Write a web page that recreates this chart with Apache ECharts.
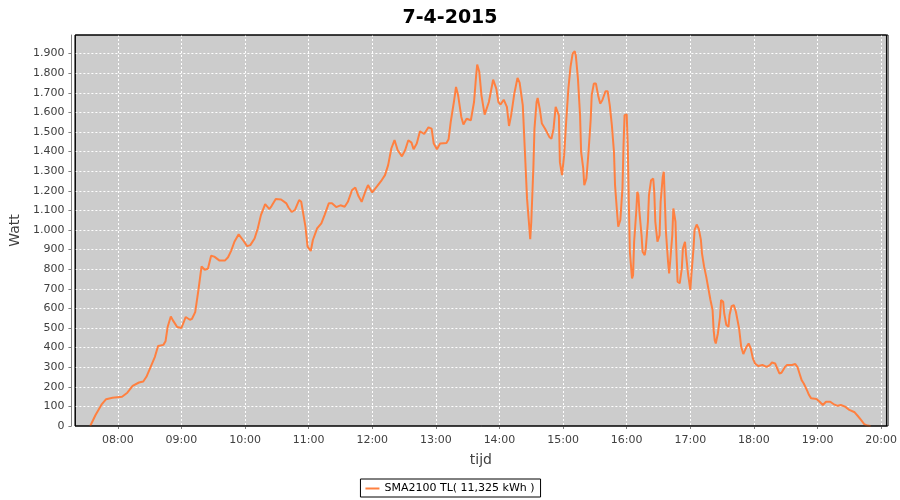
<!DOCTYPE html>
<html><head><meta charset="utf-8">
<script src="https://cdn.jsdelivr.net/npm/echarts@6/dist/echarts.min.js"></script>
<style>html,body{margin:0;padding:0;background:#fff}#c{width:900px;height:500px}</style>
</head><body><div id="c"></div>
<script>
const chartTitle = '7-4-2015';
const seriesName = 'SMA2100 TL( 11,325 kWh )';
const xAxisName = 'tijd';
const yAxisName = 'Watt';
const axisStart = '07:20';
const axisEnd = '20:05';
const hourTicks = ['08:00','09:00','10:00','11:00','12:00','13:00','14:00','15:00','16:00','17:00','18:00','19:00','20:00'];

const times = [
'07:34','07:39','07:45','07:49','07:55','08:04','08:09','08:14','08:20','08:24',
'08:27','08:31','08:35','08:38','08:43','08:45','08:47','08:50','08:52','08:56',
'09:00','09:04','09:08','09:10','09:13','09:16','09:19','09:22','09:25','09:28',
'09:31','09:36','09:41','09:44','09:47','09:50','09:54','09:58','10:02','10:05',
'10:09','10:12','10:15','10:19','10:23','10:25','10:29','10:34','10:39','10:41',
'10:44','10:47','10:51','10:53','10:57','10:59','11:02','11:04','11:08','11:12',
'11:15','11:19','11:22','11:26','11:30','11:34','11:37','11:41','11:44','11:47',
'11:50','11:54','11:56','12:00','12:05','12:09','12:12','12:15','12:18','12:21',
'12:24','12:28','12:31','12:34','12:37','12:39','12:42','12:45','12:49','12:53',
'12:56','12:58','13:01','13:04','13:10','13:12','13:14','13:17','13:19','13:21',
'13:24','13:26','13:29','13:33','13:36','13:38','13:39','13:41','13:43','13:46',
'13:47','13:50','13:53','13:54','13:57','13:59','14:01','14:04','14:07','14:09',
'14:11','14:14','14:17','14:19','14:22','14:24','14:26','14:28','14:29','14:30',
'14:32','14:33','14:35','14:36','14:38','14:40','14:43','14:47','14:49','14:51',
'14:53','14:54','14:56','14:57','14:59','15:01','15:03','15:05','15:07','15:09',
'15:11','15:12','15:14','15:16','15:17','15:19','15:20','15:22','15:24','15:26',
'15:27','15:29','15:31','15:33','15:35','15:37','15:40','15:42','15:44','15:46',
'15:48','15:49','15:51','15:52','15:54','15:56','15:57','15:58','16:00','16:01',
'16:02','16:03','16:05','16:06','16:07','16:09','16:10','16:11','16:12','16:14',
'16:15','16:17','16:18','16:20','16:21','16:23','16:25','16:26','16:27','16:29',
'16:31','16:32','16:34','16:35','16:36','16:37','16:39','16:40','16:41','16:43',
'16:44','16:46','16:47','16:48','16:50','16:52','16:53','16:55','16:56','16:58',
'17:00','17:01','17:03','17:04','17:06','17:08','17:10','17:11','17:13','17:15',
'17:17','17:19','17:21','17:22','17:23','17:24','17:26','17:28','17:29','17:31',
'17:32','17:34','17:36','17:37','17:39','17:41','17:43','17:46','17:48','17:50',
'17:51','17:53','17:55','17:57','17:59','18:01','18:04','18:08','18:12','18:15',
'18:17','18:20','18:22','18:24','18:26','18:29','18:31','18:36','18:39','18:41',
'18:43','18:45','18:47','18:50','18:52','18:54','18:59','19:02','19:05','19:08',
'19:12','19:15','19:19','19:22','19:26','19:30','19:35','19:38','19:41','19:44',
'19:47','19:50'
];
const watts = [
0,56,112,137,144,149,170,205,222,227,
251,302,353,408,414,432,505,559,539,505,
500,556,542,547,581,692,814,797,802,869,
864,844,844,861,895,940,978,949,918,923,
957,1008,1076,1132,1107,1122,1158,1156,1136,1115,
1092,1102,1153,1144,1017,915,893,949,1008,1034,
1076,1136,1136,1117,1126,1119,1144,1204,1217,1173,
1144,1204,1229,1192,1226,1255,1280,1331,1416,1459,
1407,1376,1407,1458,1446,1412,1441,1504,1490,1524,
1517,1441,1412,1441,1444,1463,1551,1653,1730,1687,
1577,1538,1568,1560,1653,1789,1844,1806,1687,1589,
1582,1653,1738,1767,1721,1653,1640,1665,1628,1531,
1585,1696,1776,1752,1636,1398,1160,1024,953,1041,
1322,1517,1653,1674,1619,1543,1517,1475,1466,1517,
1628,1636,1585,1345,1280,1382,1560,1722,1832,1900,
1912,1891,1773,1586,1399,1314,1229,1263,1399,1560,
1688,1747,1747,1688,1645,1662,1708,1708,1637,1535,
1399,1229,1084,1017,1051,1212,1433,1586,1590,1433,
1144,889,753,770,940,1093,1195,1178,1093,974,
889,872,906,1042,1178,1254,1263,1195,1042,940,
974,1144,1271,1297,1144,991,838,779,838,974,
1110,1042,872,736,728,804,906,940,872,770,
694,770,906,1000,1028,1005,949,881,813,762,
702,643,592,489,438,421,472,557,643,634,
574,515,506,566,612,617,583,498,404,367,
370,404,421,396,345,319,306,311,302,311,
324,319,294,268,272,299,311,311,316,302,
268,234,217,183,158,141,138,124,107,124,
124,112,103,107,99,82,70,51,31,10,
2,0
];

function ts(s){ const p = s.split(':'); return new Date(2015, 3, 7, +p[0], +p[1]).getTime(); }
const data = times.map((t, i) => [ts(t), watts[i]]);

function nl(v){
  if (v >= 1000) return Math.floor(v/1000) + '.' + String(v % 1000).padStart(3, '0');
  return String(v);
}

const font = 'DejaVu Sans';
const G = {left: 75, right: 12, top: 35, bottom: 74};
const chart = echarts.init(document.getElementById('c'), null, {renderer: 'canvas'});
chart.setOption({
  animation: false,
  backgroundColor: '#ffffff',
  title: {
    text: chartTitle, left: 'center', top: 4,
    textStyle: {fontFamily: font, fontSize: 19, fontWeight: 'bold', color: '#000'}
  },
  legend: {
    bottom: 3, left: 'center',
    data: [seriesName],
    icon: 'rect', itemWidth: 14, itemHeight: 2, itemGap: 4,
    borderColor: '#000', borderWidth: 1, padding: [4, 6, 3, 5],
    textStyle: {fontFamily: font, fontSize: 11, color: '#000'}
  },
  grid: {
    left: G.left, right: G.right, top: G.top, bottom: G.bottom,
    show: true, backgroundColor: '#cccccc', borderColor: '#000', borderWidth: 1
  },
  graphic: [{
    type: 'rect', z: 100, silent: true,
    shape: {x: G.left, y: G.top, width: 900 - G.left - G.right, height: 500 - G.top - G.bottom},
    style: {fill: null, stroke: '#000', lineWidth: 1}
  }],
  xAxis: {
    type: 'time',
    min: ts(axisStart), max: ts(axisEnd),
    minInterval: 3600000, maxInterval: 3600000,
    offset: 4,
    name: xAxisName, nameLocation: 'middle', nameGap: 23,
    nameTextStyle: {fontFamily: font, fontSize: 14, color: '#404040'},
    axisLine: {show: true, lineStyle: {color: '#808080', width: 1}},
    axisTick: {show: true, length: 3, lineStyle: {color: '#808080'}, customValues: hourTicks.map(ts)},
    axisLabel: {
      formatter: '{HH}:{mm}', fontFamily: font, fontSize: 11, color: '#404040', margin: 5,
      showMinLabel: false, showMaxLabel: false
    },
    splitLine: {show: true, showMinLine: false, showMaxLine: false, lineStyle: {color: '#ffffff', type: [2, 2], width: 1}}
  },
  yAxis: {
    type: 'value', min: 0, max: 1995, interval: 100,
    offset: 4,
    name: yAxisName, nameLocation: 'middle', nameGap: 43, nameRotate: 90,
    nameTextStyle: {fontFamily: font, fontSize: 14, color: '#404040'},
    axisLine: {show: true, lineStyle: {color: '#808080', width: 1}},
    axisTick: {show: true, length: 3, lineStyle: {color: '#808080'}},
    axisLabel: {formatter: nl, fontFamily: font, fontSize: 11, color: '#404040', margin: 7, showMaxLabel: false},
    splitLine: {show: true, showMinLine: false, showMaxLine: false, lineStyle: {color: '#ffffff', type: [2, 2], width: 1}}
  },
  series: [{
    name: seriesName, type: 'line', data: data,
    showSymbol: false, smooth: false,
    itemStyle: {color: '#ff8040'},
    lineStyle: {color: '#ff8040', width: 2}
  }]
});
</script>
</body></html>
